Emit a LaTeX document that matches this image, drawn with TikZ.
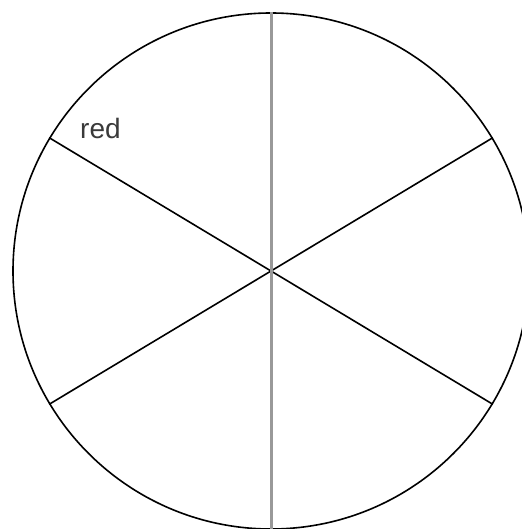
\documentclass[tikz,border=0pt]{standalone}
\usepackage{fontspec}
\setmainfont{Liberation Sans}
\usepackage{xcolor}
\usepackage{tikz}
\usetikzlibrary{positioning,calc}
\definecolor{spokegray}{HTML}{999999}
\definecolor{labelink}{HTML}{3A3A3A}

\begin{document}
\begin{tikzpicture}[x=1pt, y=-1pt,
  wheel/.style={draw=black, circle, line width=1.6pt, inner sep=0pt, minimum size=516pt},
  spoke/.style={line width=1.6pt},
  axis/.style={draw=spokegray, line width=3pt},
  lbl/.style={font=\fontsize{28}{33}\selectfont, text=labelink, inner sep=0pt, anchor=base west}]
\useasboundingbox (0,0) rectangle (521,529);
\coordinate (o) at (271,271);
\node[wheel] (w) at (o) {};
\foreach \a in {31,149,211,329}
  \draw[spoke] (o) -- (w.\a);
\coordinate (bot) at (271,531);
\draw[axis] (w.north) -- (bot);
\node[lbl] (red) at (80,139) {red};
\end{tikzpicture}
\end{document}
